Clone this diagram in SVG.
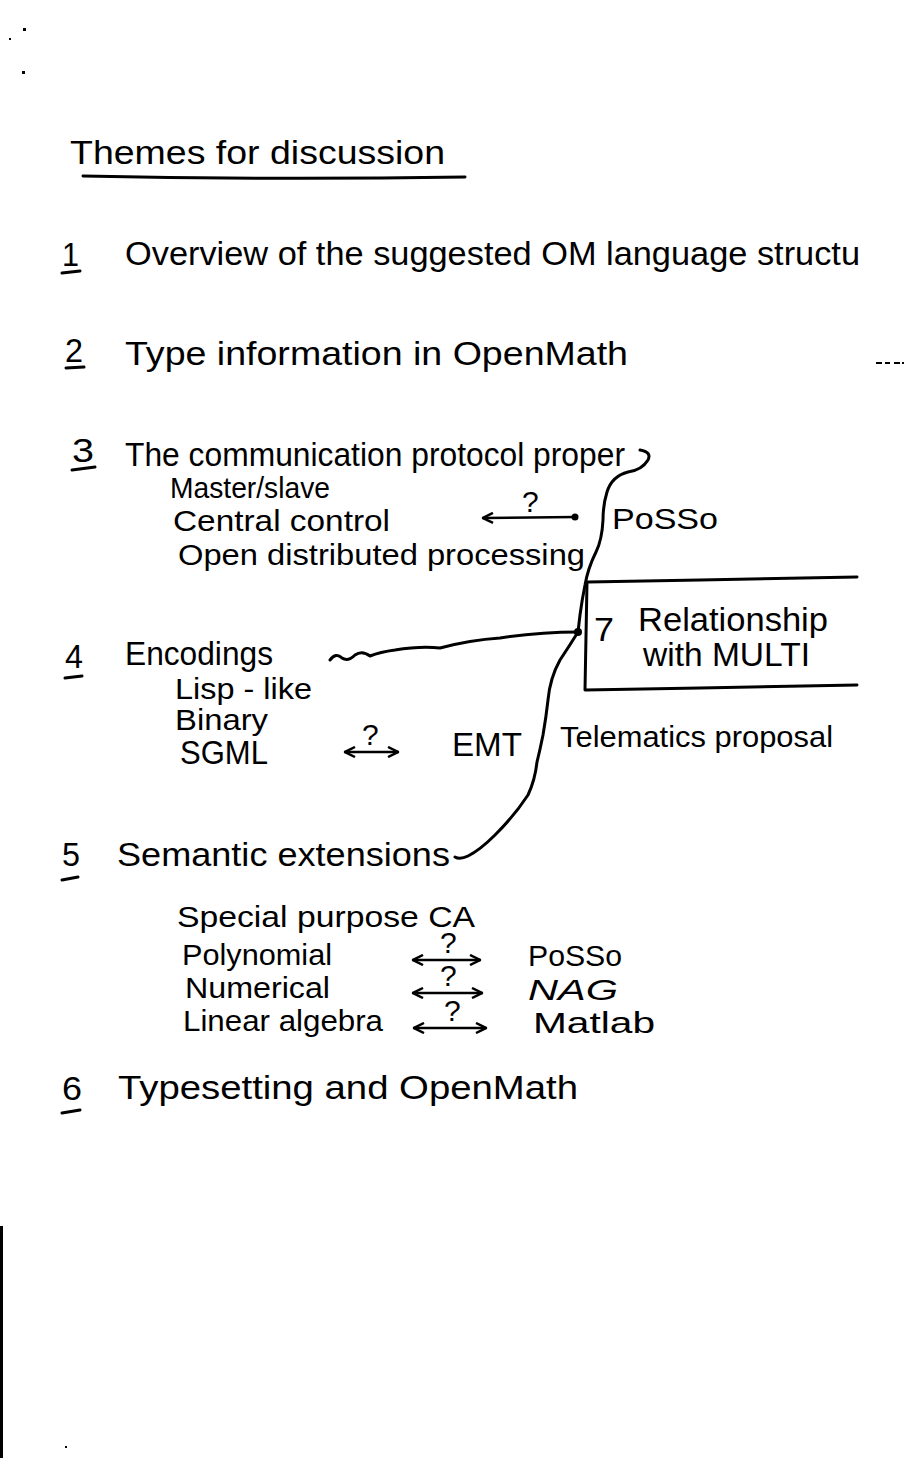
<svg xmlns="http://www.w3.org/2000/svg" width="904" height="1470" viewBox="0 0 904 1470">
<style>
text{font-family:"Liberation Sans","DejaVu Sans",sans-serif;fill:#000}
.h{font-size:34px}
.s{font-size:30px}
.ln{fill:none;stroke:#000;stroke-width:3;stroke-linecap:round;stroke-linejoin:round}
.th{fill:none;stroke:#000;stroke-width:2.5;stroke-linecap:round}
</style>
<defs>
<marker id="ah" viewBox="0 0 10 10" refX="9" refY="5" markerWidth="5" markerHeight="5" orient="auto-start-reverse">
<path d="M1,1 L9,5 L1,9" fill="none" stroke="#000" stroke-width="2"/>
</marker>
</defs>
<rect width="904" height="1470" fill="#fff"/>
<g id="marks">
<rect x="23" y="28" width="3" height="3"/>
<rect x="9" y="38" width="2" height="2"/>
<rect x="22" y="71" width="3" height="3"/>
<rect x="65" y="1446" width="2" height="2"/>
<rect x="0" y="1226" width="3" height="232"/>
<path d="M876,363 H882 M885,363 H890 M894,363 H900 M902,363 H904" stroke="#000" stroke-width="2"/>
</g>
<g id="title">
<text class="h" x="70" y="164" textLength="375" lengthAdjust="spacingAndGlyphs">Themes for discussion</text>
<path class="ln" d="M83,176 Q270,180 465,177"/>
</g>
<g id="item1">
<text class="h" x="62" y="266" textLength="17" lengthAdjust="spacingAndGlyphs">1</text>
<path class="ln" d="M62,273 L80,271"/>
<text class="h" x="125" y="265" textLength="735" lengthAdjust="spacingAndGlyphs">Overview of the suggested OM language structu</text>
</g>
<g id="item2">
<text class="h" x="65" y="362" textLength="18" lengthAdjust="spacingAndGlyphs">2</text>
<path class="ln" d="M66,368 L84,367"/>
<text class="h" x="125" y="365" textLength="503" lengthAdjust="spacingAndGlyphs">Type information in OpenMath</text>
</g>
<g id="item3">
<text class="h" x="72" y="462" textLength="22" lengthAdjust="spacingAndGlyphs">3</text>
<path class="ln" d="M72,470 L95,467"/>
<text class="h" x="125" y="466" textLength="500" lengthAdjust="spacingAndGlyphs">The communication protocol proper</text>
<text class="s" x="170" y="498" textLength="160" lengthAdjust="spacingAndGlyphs">Master/slave</text>
<text class="s" x="173" y="531" textLength="217" lengthAdjust="spacingAndGlyphs">Central control</text>
<text class="s" x="178" y="565" textLength="407" lengthAdjust="spacingAndGlyphs">Open distributed processing</text>
</g>
<g id="posso1">
<text class="s" x="612" y="529" textLength="106" lengthAdjust="spacingAndGlyphs">PoSSo</text>
</g>
<g id="item7">
<path class="ln" d="M588,582 L700,580 L857,577"/>
<path class="ln" d="M587,582 L585,690 L700,688 L857,685"/>
<text class="h" x="594" y="641" textLength="20" lengthAdjust="spacingAndGlyphs">7</text>
<text class="h" x="638" y="631" textLength="190" lengthAdjust="spacingAndGlyphs">Relationship</text>
<text class="h" x="643" y="666" textLength="167" lengthAdjust="spacingAndGlyphs">with MULTI</text>
</g>
<g id="item4">
<text class="h" x="65" y="668" textLength="18" lengthAdjust="spacingAndGlyphs">4</text>
<path class="ln" d="M65,678 L82,676"/>
<text class="h" x="125" y="665" textLength="148" lengthAdjust="spacingAndGlyphs">Encodings</text>
<text class="s" x="175" y="699" textLength="137" lengthAdjust="spacingAndGlyphs">Lisp - like</text>
<text class="s" x="175" y="730" textLength="93" lengthAdjust="spacingAndGlyphs">Binary</text>
<text class="h" x="180" y="764" textLength="88" lengthAdjust="spacingAndGlyphs">SGML</text>
</g>
<g id="emt">
<text class="h" x="452" y="756" textLength="70" lengthAdjust="spacingAndGlyphs">EMT</text>
<text class="s" x="560" y="747" textLength="273" lengthAdjust="spacingAndGlyphs">Telematics proposal</text>
</g>
<g id="item5">
<text class="h" x="62" y="866" textLength="18" lengthAdjust="spacingAndGlyphs">5</text>
<path class="ln" d="M62,880 L78,877"/>
<text class="h" x="117" y="866" textLength="333" lengthAdjust="spacingAndGlyphs">Semantic extensions</text>
<text class="s" x="177" y="927" textLength="298" lengthAdjust="spacingAndGlyphs">Special purpose CA</text>
<text class="s" x="182" y="965" textLength="150" lengthAdjust="spacingAndGlyphs">Polynomial</text>
<text class="s" x="185" y="998" textLength="145" lengthAdjust="spacingAndGlyphs">Numerical</text>
<text class="s" x="183" y="1031" textLength="200" lengthAdjust="spacingAndGlyphs">Linear algebra</text>
<text class="s" x="528" y="966" textLength="94" lengthAdjust="spacingAndGlyphs">PoSSo</text>
<text class="s" x="528" y="1000" textLength="90" lengthAdjust="spacingAndGlyphs" font-style="italic">NAG</text>
<text class="s" x="533" y="1033" textLength="122" lengthAdjust="spacingAndGlyphs">Matlab</text>
</g>
<g id="item6">
<text class="h" x="62" y="1100" textLength="20" lengthAdjust="spacingAndGlyphs">6</text>
<path class="ln" d="M62,1113 L80,1110"/>
<text class="h" x="118" y="1099" textLength="460" lengthAdjust="spacingAndGlyphs">Typesetting and OpenMath</text>
</g>
<g id="connectors">
<path class="ln" d="M640,450 Q652,452 648,460 Q642,470 628,472 Q612,476 607,492 Q603,505 603,520 Q602,540 596,552 Q588,568 585,585 Q582,600 580,615 L578,632"/>
<path class="ln" d="M578,632 Q570,645 560,660 Q550,678 548,700 Q546,718 543,735 Q540,750 537,762 Q535,780 528,795 Q515,815 495,835 Q480,850 468,856 Q460,860 455,857"/>
<path class="ln" d="M330,660 Q336,652 342,658 Q348,662 355,655 Q362,650 370,656 Q380,652 395,650 Q420,646 440,648 Q470,640 500,638 Q540,632 578,632"/>
<circle cx="578" cy="632" r="4"/>
<g class="th">
<path d="M483,518 L575,517" marker-start="url(#ah)"/>
<path d="M345,752 L398,752" marker-start="url(#ah)" marker-end="url(#ah)"/>
<path d="M413,960 L480,960" marker-start="url(#ah)" marker-end="url(#ah)"/>
<path d="M413,993 L482,993" marker-start="url(#ah)" marker-end="url(#ah)"/>
<path d="M414,1028 L486,1028" marker-start="url(#ah)" marker-end="url(#ah)"/>
</g>
<circle cx="575" cy="517" r="3.5"/>
<text class="s" x="522" y="512" font-size="24">?</text>
<text class="s" x="362" y="745" font-size="24">?</text>
<text class="s" x="440" y="953" font-size="22">?</text>
<text class="s" x="440" y="986" font-size="22">?</text>
<text class="s" x="444" y="1021" font-size="22">?</text>
</g>
</svg>
